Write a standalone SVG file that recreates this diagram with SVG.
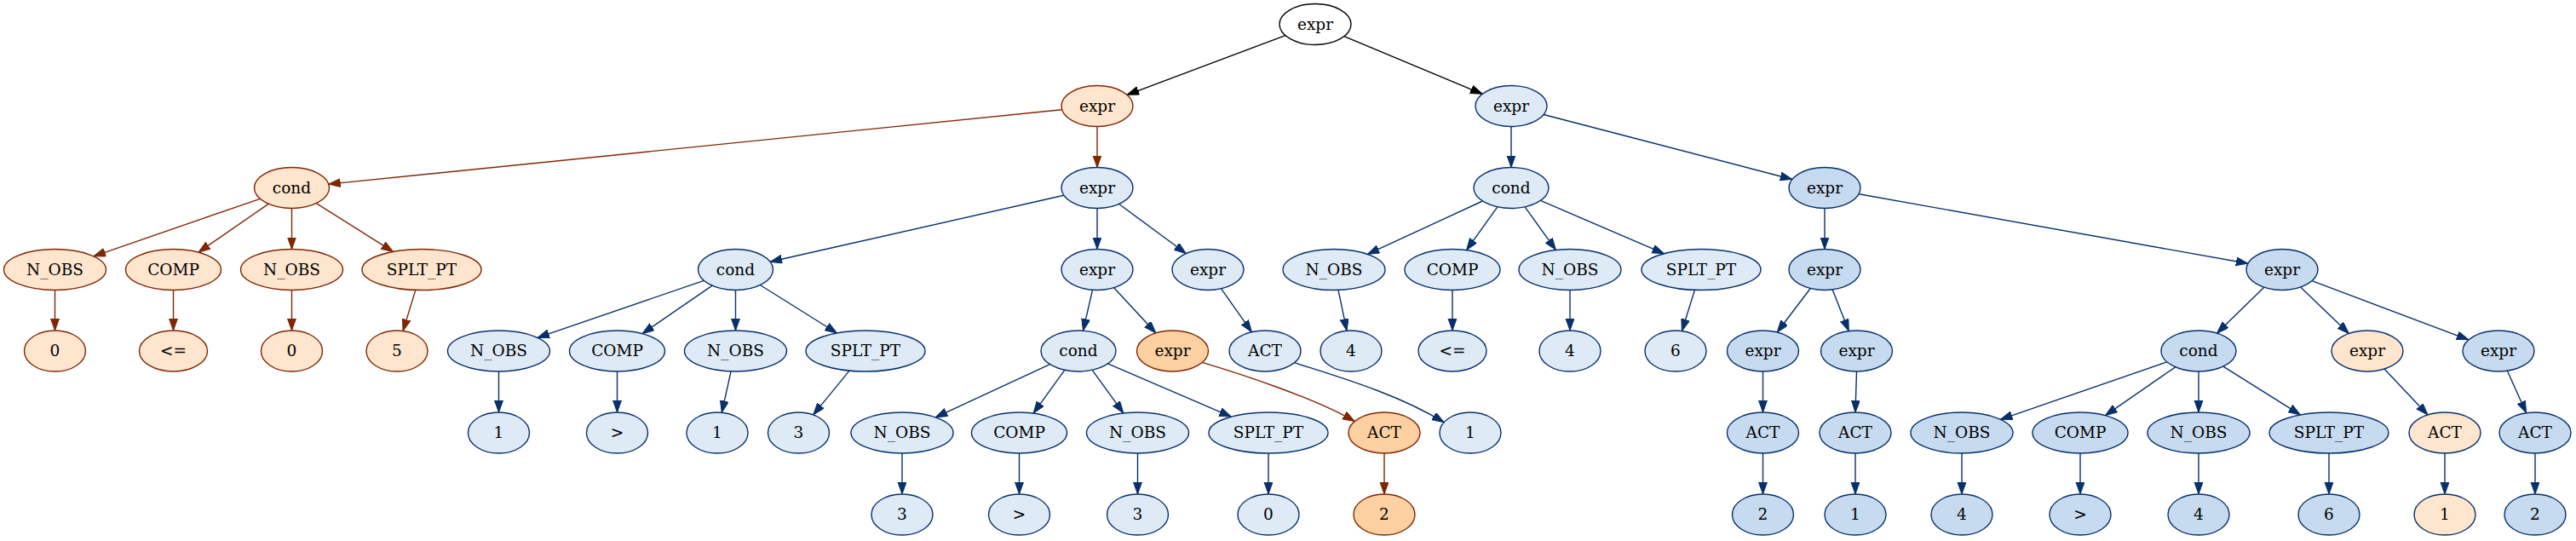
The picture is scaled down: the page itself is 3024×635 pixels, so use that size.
<svg xmlns="http://www.w3.org/2000/svg" width="3024" height="635" viewBox="0 0 3024 635">
<defs>
<style>
ellipse{stroke-width:1.4}
.w{fill:#ffffff;stroke:#000000}
.o1{fill:#fee6ce;stroke:#7f2704}
.o2{fill:#fdd0a2;stroke:#7f2704}
.ob{fill:#fee6ce;stroke:#08306b}
.b1{fill:#deebf7;stroke:#08306b}
.b2{fill:#c6dbef;stroke:#08306b}
text{font-family:"DejaVu Serif","Liberation Serif",serif;font-size:18.5px;text-anchor:middle;fill:#000}
.ek path,.ek line{stroke:#000000}
.eo path,.eo line{stroke:#7f2704}
.eb path,.eb line{stroke:#08306b}
#edges line,#edges path{stroke-width:1.4;fill:none}
.ek line,.ek path{marker-end:url(#ak)}
.eo line,.eo path{marker-end:url(#ao)}
.eb line,.eb path{marker-end:url(#ab)}
</style>
<marker id="ak" markerUnits="userSpaceOnUse" markerWidth="15" markerHeight="11" refX="14" refY="5" orient="auto"><path d="M0,0 L14,5 L0,10 z" fill="#000000" stroke="#000000" stroke-width="1"/></marker>
<marker id="ao" markerUnits="userSpaceOnUse" markerWidth="15" markerHeight="11" refX="14" refY="5" orient="auto"><path d="M0,0 L14,5 L0,10 z" fill="#7f2704" stroke="#7f2704" stroke-width="1"/></marker>
<marker id="ab" markerUnits="userSpaceOnUse" markerWidth="15" markerHeight="11" refX="14" refY="5" orient="auto"><path d="M0,0 L14,5 L0,10 z" fill="#08306b" stroke="#08306b" stroke-width="1"/></marker>
</defs>
<rect x="0" y="0" width="3024" height="635" fill="#ffffff"/>
<g id="edges">
<g class="ek">
<line x1="1508.9" y1="41.7" x2="1323.1" y2="111.3"/>
<line x1="1577.9" y1="42.7" x2="1740.1" y2="110.3"/>
</g>
<g class="eo">
<line x1="1246.6" y1="128.7" x2="385.8" y2="216.1"/>
<line x1="1288" y1="148.5" x2="1288" y2="196.5"/>
<line x1="305.3" y1="233.3" x2="109.9" y2="300.8"/>
<line x1="315.2" y1="239.3" x2="233.0" y2="296.1"/>
<line x1="342.5" y1="244.5" x2="342.5" y2="292.5"/>
<line x1="371.3" y1="238.6" x2="461.5" y2="295.4"/>
<line x1="64.5" y1="340.5" x2="64.5" y2="388"/>
<line x1="203.5" y1="340.5" x2="203.5" y2="388"/>
<line x1="342.5" y1="340.5" x2="342.5" y2="388"/>
<line x1="487.8" y1="340.4" x2="473.1" y2="388.5"/>
<path d="M1411.3,425.4 C1460,440 1545,468 1590.2,494.6"/>
<line x1="1625" y1="532" x2="1625" y2="580"/>
</g>
<g class="eb">
<line x1="1774" y1="148.5" x2="1774" y2="196.5"/>
<line x1="1812.2" y1="134.5" x2="2103.8" y2="210.5"/>
<line x1="1248.9" y1="229.3" x2="904.1" y2="307.3"/>
<line x1="1288" y1="244.5" x2="1288" y2="292.5"/>
<line x1="1313.7" y1="239.5" x2="1392.3" y2="297.5"/>
<line x1="1740.4" y1="236.0" x2="1605.3" y2="298.4"/>
<line x1="1757.9" y1="242.8" x2="1721.5" y2="293.6"/>
<line x1="1790.1" y1="242.8" x2="1826.4" y2="293.4"/>
<line x1="1808.5" y1="235.4" x2="1953.4" y2="297.7"/>
<line x1="2142" y1="244.5" x2="2142" y2="292.5"/>
<line x1="2182.1" y1="227.7" x2="2638.9" y2="309.3"/>
<line x1="826.3" y1="329.3" x2="630.9" y2="396.4"/>
<line x1="836.2" y1="335.2" x2="754.0" y2="391.7"/>
<line x1="863.5" y1="340.5" x2="863.5" y2="388"/>
<line x1="892.3" y1="334.5" x2="982.5" y2="391.0"/>
<line x1="1282.5" y1="340.3" x2="1271.5" y2="388.2"/>
<line x1="1307.7" y1="337.7" x2="1356.8" y2="390.8"/>
<line x1="1433.6" y1="338.8" x2="1469.4" y2="389.7"/>
<line x1="1571.0" y1="340.4" x2="1581.0" y2="388.2"/>
<line x1="1705" y1="340.5" x2="1705" y2="388"/>
<line x1="1843" y1="340.5" x2="1843" y2="388"/>
<line x1="1989.5" y1="340.4" x2="1974.4" y2="388.5"/>
<line x1="2125.3" y1="338.5" x2="2086.2" y2="390.0"/>
<line x1="2151.2" y1="339.9" x2="2170.3" y2="388.6"/>
<line x1="2657.8" y1="337.2" x2="2602.5" y2="391.1"/>
<line x1="2700.6" y1="337.1" x2="2757.4" y2="391.4"/>
<line x1="2714.1" y1="329.7" x2="2897.9" y2="398.8"/>
<line x1="585.5" y1="436" x2="585.5" y2="484"/>
<line x1="724.5" y1="436" x2="724.5" y2="484"/>
<line x1="858.1" y1="435.9" x2="847.3" y2="484.3"/>
<line x1="997.1" y1="435.1" x2="954.7" y2="486.9"/>
<line x1="1232.5" y1="427.6" x2="1098.2" y2="489.8"/>
<line x1="1249.8" y1="434.3" x2="1213.1" y2="485.1"/>
<line x1="1282.2" y1="434.3" x2="1318.8" y2="484.9"/>
<line x1="1300.5" y1="426.9" x2="1445.4" y2="489.2"/>
<path d="M1519.5,425.7 C1570,442 1640,462 1695.1,495.7"/>
<line x1="2069.5" y1="436" x2="2069.5" y2="484"/>
<line x1="2179.5" y1="436" x2="2178" y2="484"/>
<line x1="2543.8" y1="424.8" x2="2348.4" y2="492.3"/>
<line x1="2553.7" y1="430.8" x2="2471.5" y2="487.6"/>
<line x1="2581" y1="436" x2="2581" y2="484"/>
<line x1="2609.9" y1="430.1" x2="2700.4" y2="486.9"/>
<line x1="2799.0" y1="433.1" x2="2850.0" y2="486.9"/>
<line x1="2943.4" y1="435.3" x2="2965.6" y2="484.7"/>
<line x1="1059" y1="532" x2="1059" y2="580"/>
<line x1="1196.5" y1="532" x2="1196.5" y2="580"/>
<line x1="1335.5" y1="532" x2="1335.5" y2="580"/>
<line x1="1489" y1="532" x2="1489" y2="580"/>
<line x1="2069.5" y1="532" x2="2069.5" y2="580"/>
<line x1="2178" y1="532" x2="2178" y2="580"/>
<line x1="2303" y1="532" x2="2303" y2="580"/>
<line x1="2442" y1="532" x2="2442" y2="580"/>
<line x1="2581" y1="532" x2="2581" y2="580"/>
<line x1="2734" y1="532" x2="2734" y2="580"/>
<line x1="2870" y1="532" x2="2870" y2="580"/>
<line x1="2976" y1="532" x2="2976" y2="580"/>
</g>
</g>
<g id="n0"><ellipse class="w" cx="1544" cy="28.5" rx="42" ry="24"/><text x="1544" y="34.5">expr</text></g>
<g id="n1"><ellipse class="o1" cx="1288" cy="124.5" rx="42" ry="24"/><text x="1288" y="130.5">expr</text></g>
<g id="n2"><ellipse class="b1" cx="1774" cy="124.5" rx="42" ry="24"/><text x="1774" y="130.5">expr</text></g>
<g id="n3"><ellipse class="o1" cx="342.5" cy="220.5" rx="44" ry="24"/><text x="342.5" y="226.5">cond</text></g>
<g id="n4"><ellipse class="b1" cx="1288" cy="220.5" rx="42" ry="24"/><text x="1288" y="226.5">expr</text></g>
<g id="n5"><ellipse class="b1" cx="1774" cy="220.5" rx="44" ry="24"/><text x="1774" y="226.5">cond</text></g>
<g id="n6"><ellipse class="b2" cx="2142" cy="220.5" rx="42" ry="24"/><text x="2142" y="226.5">expr</text></g>
<g id="n7"><ellipse class="o1" cx="64.5" cy="316.5" rx="60" ry="24"/><text x="64.5" y="322.5">N_OBS</text></g>
<g id="n8"><ellipse class="o1" cx="203.5" cy="316.5" rx="56" ry="24"/><text x="203.5" y="322.5">COMP</text></g>
<g id="n9"><ellipse class="o1" cx="342.5" cy="316.5" rx="60" ry="24"/><text x="342.5" y="322.5">N_OBS</text></g>
<g id="n10"><ellipse class="o1" cx="495" cy="316.5" rx="70" ry="24"/><text x="495" y="322.5">SPLT_PT</text></g>
<g id="n11"><ellipse class="b1" cx="863.5" cy="316.5" rx="44" ry="24"/><text x="863.5" y="322.5">cond</text></g>
<g id="n12"><ellipse class="b1" cx="1288" cy="316.5" rx="42" ry="24"/><text x="1288" y="322.5">expr</text></g>
<g id="n13"><ellipse class="b1" cx="1418" cy="316.5" rx="42" ry="24"/><text x="1418" y="322.5">expr</text></g>
<g id="n14"><ellipse class="b1" cx="1566" cy="316.5" rx="60" ry="24"/><text x="1566" y="322.5">N_OBS</text></g>
<g id="n15"><ellipse class="b1" cx="1705" cy="316.5" rx="56" ry="24"/><text x="1705" y="322.5">COMP</text></g>
<g id="n16"><ellipse class="b1" cx="1843" cy="316.5" rx="60" ry="24"/><text x="1843" y="322.5">N_OBS</text></g>
<g id="n17"><ellipse class="b1" cx="1997" cy="316.5" rx="70" ry="24"/><text x="1997" y="322.5">SPLT_PT</text></g>
<g id="n18"><ellipse class="b2" cx="2142" cy="316.5" rx="42" ry="24"/><text x="2142" y="322.5">expr</text></g>
<g id="n19"><ellipse class="b2" cx="2679" cy="316.5" rx="42" ry="24"/><text x="2679" y="322.5">expr</text></g>
<g id="n20"><ellipse class="o1" cx="64.5" cy="412" rx="36" ry="24"/><text x="64.5" y="418">0</text></g>
<g id="n21"><ellipse class="o1" cx="203.5" cy="412" rx="40" ry="24"/><text x="203.5" y="418">&lt;=</text></g>
<g id="n22"><ellipse class="o1" cx="342.5" cy="412" rx="36" ry="24"/><text x="342.5" y="418">0</text></g>
<g id="n23"><ellipse class="o1" cx="466" cy="412" rx="36" ry="24"/><text x="466" y="418">5</text></g>
<g id="n24"><ellipse class="b1" cx="585.5" cy="412" rx="60" ry="24"/><text x="585.5" y="418">N_OBS</text></g>
<g id="n25"><ellipse class="b1" cx="724.5" cy="412" rx="56" ry="24"/><text x="724.5" y="418">COMP</text></g>
<g id="n26"><ellipse class="b1" cx="863.5" cy="412" rx="60" ry="24"/><text x="863.5" y="418">N_OBS</text></g>
<g id="n27"><ellipse class="b1" cx="1016" cy="412" rx="70" ry="24"/><text x="1016" y="418">SPLT_PT</text></g>
<g id="n28"><ellipse class="b1" cx="1266" cy="412" rx="44" ry="24"/><text x="1266" y="418">cond</text></g>
<g id="n29"><ellipse class="o2" cx="1376.5" cy="412" rx="42" ry="24"/><text x="1376.5" y="418">expr</text></g>
<g id="n30"><ellipse class="b1" cx="1485" cy="412" rx="42" ry="24"/><text x="1485" y="418">ACT</text></g>
<g id="n31"><ellipse class="b1" cx="1586" cy="412" rx="36" ry="24"/><text x="1586" y="418">4</text></g>
<g id="n32"><ellipse class="b1" cx="1705" cy="412" rx="40" ry="24"/><text x="1705" y="418">&lt;=</text></g>
<g id="n33"><ellipse class="b1" cx="1843" cy="412" rx="36" ry="24"/><text x="1843" y="418">4</text></g>
<g id="n34"><ellipse class="b1" cx="1967" cy="412" rx="36" ry="24"/><text x="1967" y="418">6</text></g>
<g id="n35"><ellipse class="b2" cx="2069.5" cy="412" rx="42" ry="24"/><text x="2069.5" y="418">expr</text></g>
<g id="n36"><ellipse class="b2" cx="2179.5" cy="412" rx="42" ry="24"/><text x="2179.5" y="418">expr</text></g>
<g id="n37"><ellipse class="b2" cx="2581" cy="412" rx="44" ry="24"/><text x="2581" y="418">cond</text></g>
<g id="n38"><ellipse class="ob" cx="2779" cy="412" rx="42" ry="24"/><text x="2779" y="418">expr</text></g>
<g id="n39"><ellipse class="b2" cx="2933" cy="412" rx="42" ry="24"/><text x="2933" y="418">expr</text></g>
<g id="n40"><ellipse class="b1" cx="585.5" cy="508" rx="36" ry="24"/><text x="585.5" y="514">1</text></g>
<g id="n41"><ellipse class="b1" cx="724.5" cy="508" rx="36" ry="24"/><text x="724.5" y="514">&gt;</text></g>
<g id="n42"><ellipse class="b1" cx="842" cy="508" rx="36" ry="24"/><text x="842" y="514">1</text></g>
<g id="n43"><ellipse class="b1" cx="937.5" cy="508" rx="36" ry="24"/><text x="937.5" y="514">3</text></g>
<g id="n44"><ellipse class="b1" cx="1059" cy="508" rx="60" ry="24"/><text x="1059" y="514">N_OBS</text></g>
<g id="n45"><ellipse class="b1" cx="1196.5" cy="508" rx="56" ry="24"/><text x="1196.5" y="514">COMP</text></g>
<g id="n46"><ellipse class="b1" cx="1335.5" cy="508" rx="60" ry="24"/><text x="1335.5" y="514">N_OBS</text></g>
<g id="n47"><ellipse class="b1" cx="1489" cy="508" rx="70" ry="24"/><text x="1489" y="514">SPLT_PT</text></g>
<g id="n48"><ellipse class="o2" cx="1625" cy="508" rx="42" ry="24"/><text x="1625" y="514">ACT</text></g>
<g id="n49"><ellipse class="b1" cx="1726" cy="508" rx="36" ry="24"/><text x="1726" y="514">1</text></g>
<g id="n50"><ellipse class="b2" cx="2069.5" cy="508" rx="42" ry="24"/><text x="2069.5" y="514">ACT</text></g>
<g id="n51"><ellipse class="b2" cx="2178" cy="508" rx="42" ry="24"/><text x="2178" y="514">ACT</text></g>
<g id="n52"><ellipse class="b2" cx="2303" cy="508" rx="60" ry="24"/><text x="2303" y="514">N_OBS</text></g>
<g id="n53"><ellipse class="b2" cx="2442" cy="508" rx="56" ry="24"/><text x="2442" y="514">COMP</text></g>
<g id="n54"><ellipse class="b2" cx="2581" cy="508" rx="60" ry="24"/><text x="2581" y="514">N_OBS</text></g>
<g id="n55"><ellipse class="b2" cx="2734" cy="508" rx="70" ry="24"/><text x="2734" y="514">SPLT_PT</text></g>
<g id="n56"><ellipse class="ob" cx="2870" cy="508" rx="42" ry="24"/><text x="2870" y="514">ACT</text></g>
<g id="n57"><ellipse class="b2" cx="2976" cy="508" rx="42" ry="24"/><text x="2976" y="514">ACT</text></g>
<g id="n58"><ellipse class="b1" cx="1059" cy="604" rx="36" ry="24"/><text x="1059" y="610">3</text></g>
<g id="n59"><ellipse class="b1" cx="1196.5" cy="604" rx="36" ry="24"/><text x="1196.5" y="610">&gt;</text></g>
<g id="n60"><ellipse class="b1" cx="1335.5" cy="604" rx="36" ry="24"/><text x="1335.5" y="610">3</text></g>
<g id="n61"><ellipse class="b1" cx="1489" cy="604" rx="36" ry="24"/><text x="1489" y="610">0</text></g>
<g id="n62"><ellipse class="o2" cx="1625" cy="604" rx="36" ry="24"/><text x="1625" y="610">2</text></g>
<g id="n63"><ellipse class="b2" cx="2069.5" cy="604" rx="36" ry="24"/><text x="2069.5" y="610">2</text></g>
<g id="n64"><ellipse class="b2" cx="2178" cy="604" rx="36" ry="24"/><text x="2178" y="610">1</text></g>
<g id="n65"><ellipse class="b2" cx="2303" cy="604" rx="36" ry="24"/><text x="2303" y="610">4</text></g>
<g id="n66"><ellipse class="b2" cx="2442" cy="604" rx="36" ry="24"/><text x="2442" y="610">&gt;</text></g>
<g id="n67"><ellipse class="b2" cx="2581" cy="604" rx="36" ry="24"/><text x="2581" y="610">4</text></g>
<g id="n68"><ellipse class="b2" cx="2734" cy="604" rx="36" ry="24"/><text x="2734" y="610">6</text></g>
<g id="n69"><ellipse class="ob" cx="2870" cy="604" rx="36" ry="24"/><text x="2870" y="610">1</text></g>
<g id="n70"><ellipse class="b2" cx="2976" cy="604" rx="36" ry="24"/><text x="2976" y="610">2</text></g>
</svg>
